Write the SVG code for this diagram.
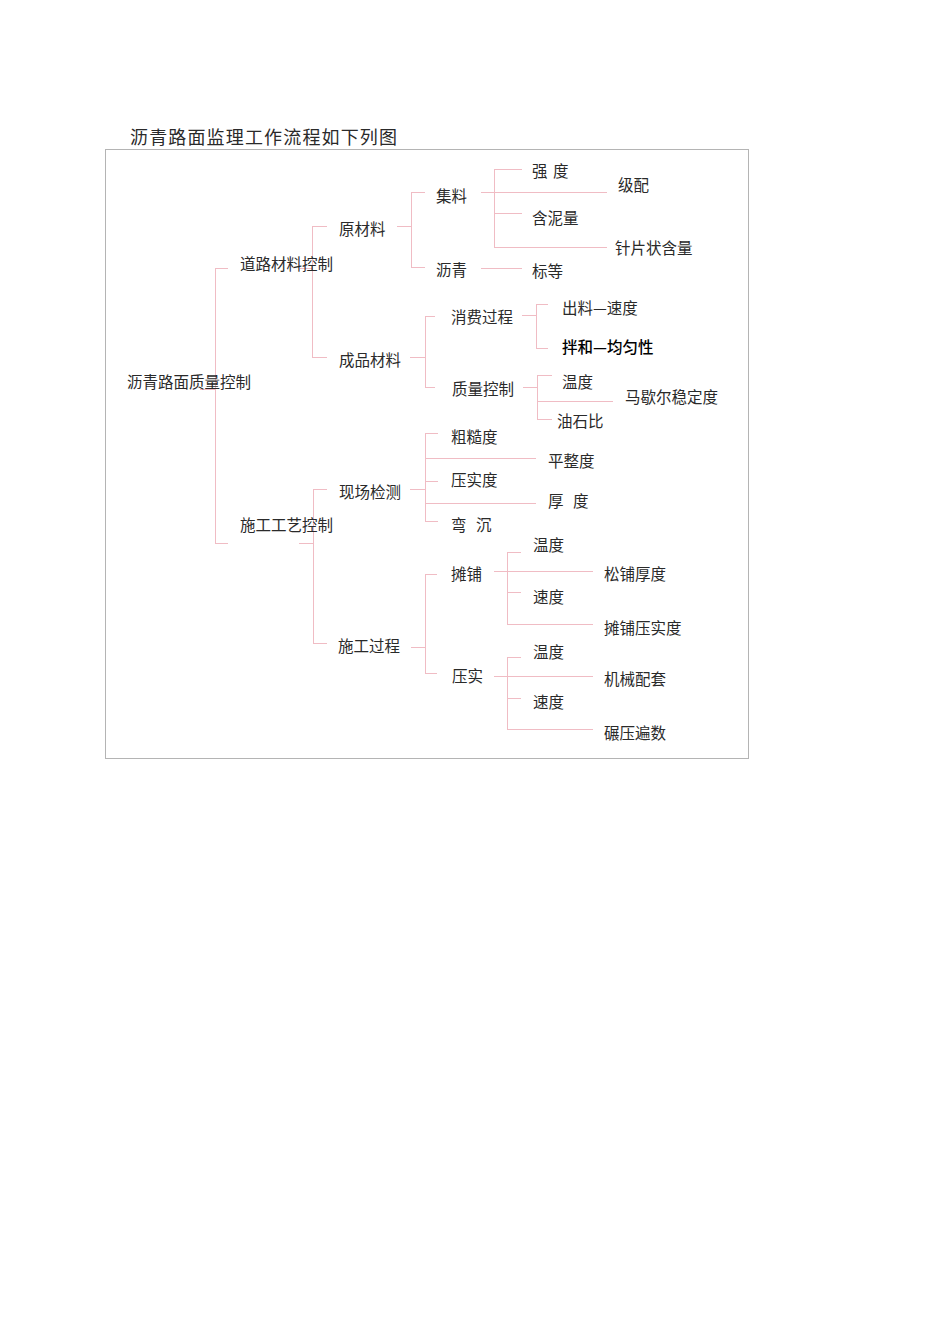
<svg xmlns="http://www.w3.org/2000/svg" width="950" height="1344" viewBox="0 0 950 1344">
<style>
.t{font-family:"Noto Sans CJK SC","Noto Sans",sans-serif;font-size:15.5px;fill:#2a2a2a;}
.b{font-family:"Noto Sans CJK SC","Noto Sans",sans-serif;font-size:15.5px;fill:#000;font-weight:500;}
.ws{word-spacing:6px;}
.ln{fill:none;stroke:#f0bcc4;stroke-width:1;}
</style>
<rect width="950" height="1344" fill="#fff"/>
<text id="title" class="t" x="130" y="144" style="font-size:18px" textLength="267" lengthAdjust="spacing">沥青路面监理工作流程如下列图</text>
<rect id="frame" x="105.5" y="149.5" width="643" height="609" fill="none" stroke="#b4b4b4" stroke-width="1"/>
<g id="connectors" class="ln">
<path d="M200 389.5H215.5M215.5 268V543M215 268.5H228M215 543.5H228"/>
<path d="M300 268.5H312.5M312.5 226V357M312 226.5H327M312 357.5H327"/>
<path d="M397 226.5H411.5M411.5 192V267M411 192.5H425M411 267.5H425"/>
<path d="M481 192.5H607M494.5 169V247M494 169.5H522M494 213.5H522M494 247.5H607"/>
<path d="M481 268.5H522"/>
<path d="M410 357.5H425.5M425.5 316V387M425 316.5H435M425 387.5H435"/>
<path d="M522 315.5H536.5M536.5 304V348M536 304.5H548M536 348.5H548"/>
<path d="M523 387.5H537.5M537.5 375V419M537 375.5H552M537 401.5H613M537 419.5H552"/>
<path d="M299 543.5H313.5M313.5 489V643M313 489.5H327M313 643.5H327"/>
<path d="M410 489.5H425.5M425.5 433V521M425 433.5H438M425 458.5H536M425 481.5H438M425 503.5H536M425 521.5H438"/>
<path d="M411 647.5H425.5M425.5 574V673M425 574.5H437M425 673.5H437"/>
<path d="M494 571.5H593M507.5 552V624M507 552.5H521M507 592.5H521M507 624.5H593"/>
<path d="M494 676.5H593M507.5 657V729M507 657.5H521M507 698.5H521M507 729.5H593"/>
</g>
<g id="n-root"><text class="t" x="127" y="388">沥青路面质量控制</text></g>
<g id="n-daolu"><text class="t" x="240" y="270">道路材料控制</text></g>
<g id="n-shigong"><text class="t" x="240" y="531">施工工艺控制</text></g>
<g id="n-yuancailiao"><text class="t" x="339" y="235">原材料</text></g>
<g id="n-chengpin"><text class="t" x="339" y="366">成品材料</text></g>
<g id="n-xianchang"><text class="t" x="339" y="498">现场检测</text></g>
<g id="n-shigongguocheng"><text class="t" x="338" y="652">施工过程</text></g>
<g id="n-jiliao"><text class="t" x="436" y="202">集料</text></g>
<g id="n-liqing"><text class="t" x="436" y="276">沥青</text></g>
<g id="n-qiangdu"><text class="t" x="532" y="177" style="word-spacing:2px">强 度</text></g>
<g id="n-jipei"><text class="t" x="618" y="191">级配</text></g>
<g id="n-hannil"><text class="t" x="532" y="224">含泥量</text></g>
<g id="n-zhenpian"><text class="t" x="615" y="254">针片状含量</text></g>
<g id="n-biaodeng"><text class="t" x="532" y="277">标等</text></g>
<g id="n-xiaofei"><text class="t" x="451" y="323">消费过程</text></g>
<g id="n-zhiliang"><text class="t" x="452" y="395">质量控制</text></g>
<g id="n-chuliao"><text class="t" x="562" y="314">出料—速度</text></g>
<g id="n-banhe"><text class="b" x="562" y="353">拌和—均匀性</text></g>
<g id="n-wendu1"><text class="t" x="562" y="388">温度</text></g>
<g id="n-maxieer"><text class="t" x="625" y="403">马歇尔稳定度</text></g>
<g id="n-youshi"><text class="t" x="557" y="427">油石比</text></g>
<g id="n-cucao"><text class="t" x="451" y="443">粗糙度</text></g>
<g id="n-pingzheng"><text class="t" x="548" y="467">平整度</text></g>
<g id="n-yashidu"><text class="t" x="451" y="486">压实度</text></g>
<g id="n-houdu"><text class="t ws" x="548" y="507">厚 度</text></g>
<g id="n-wanchen"><text class="t ws" x="451" y="531">弯 沉</text></g>
<g id="n-tanpu"><text class="t" x="451" y="580">摊铺</text></g>
<g id="n-wendu2"><text class="t" x="533" y="551">温度</text></g>
<g id="n-songpu"><text class="t" x="604" y="580">松铺厚度</text></g>
<g id="n-sudu1"><text class="t" x="533" y="603">速度</text></g>
<g id="n-tanpuyashi"><text class="t" x="604" y="634">摊铺压实度</text></g>
<g id="n-yashi"><text class="t" x="452" y="682">压实</text></g>
<g id="n-wendu3"><text class="t" x="533" y="658">温度</text></g>
<g id="n-jixie"><text class="t" x="604" y="685">机械配套</text></g>
<g id="n-sudu2"><text class="t" x="533" y="708">速度</text></g>
<g id="n-nianya"><text class="t" x="604" y="739">碾压遍数</text></g>
</svg>
